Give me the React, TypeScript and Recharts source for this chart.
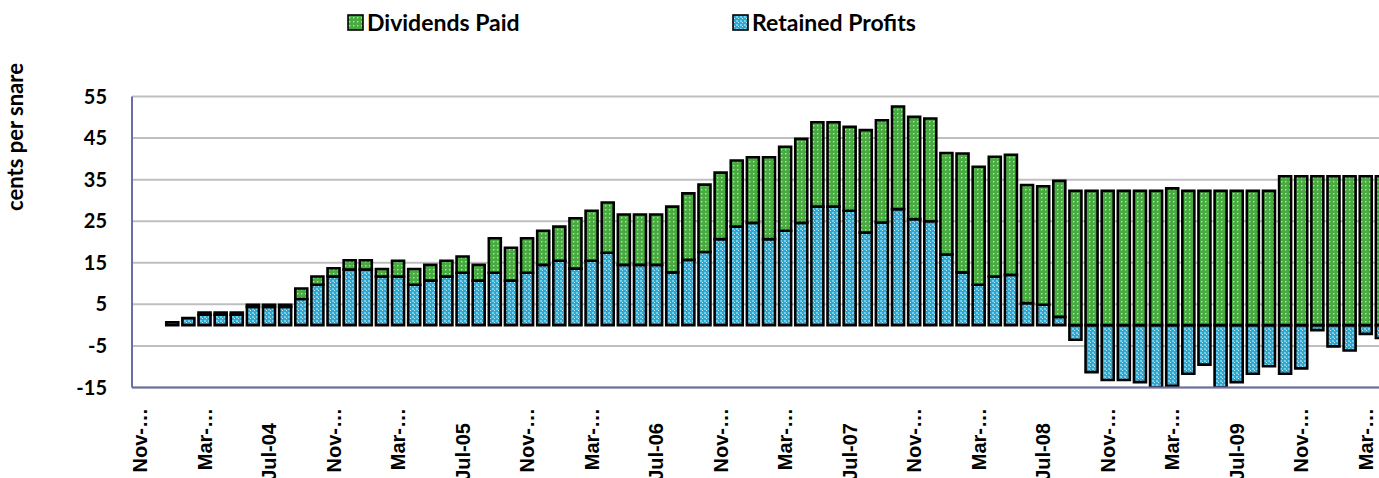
import React from 'react';
import { BarChart, Bar, XAxis, YAxis, CartesianGrid } from 'recharts';

const months = [
  'Nov-03', 'Dec-03', 'Jan-04', 'Feb-04', 'Mar-04', 'Apr-04', 'May-04', 'Jun-04', 'Jul-04', 'Aug-04', 'Sep-04', 'Oct-04',
  'Nov-04', 'Dec-04', 'Jan-05', 'Feb-05', 'Mar-05', 'Apr-05', 'May-05', 'Jun-05', 'Jul-05', 'Aug-05', 'Sep-05', 'Oct-05',
  'Nov-05', 'Dec-05', 'Jan-06', 'Feb-06', 'Mar-06', 'Apr-06', 'May-06', 'Jun-06', 'Jul-06', 'Aug-06', 'Sep-06', 'Oct-06',
  'Nov-06', 'Dec-06', 'Jan-07', 'Feb-07', 'Mar-07', 'Apr-07', 'May-07', 'Jun-07', 'Jul-07', 'Aug-07', 'Sep-07', 'Oct-07',
  'Nov-07', 'Dec-07', 'Jan-08', 'Feb-08', 'Mar-08', 'Apr-08', 'May-08', 'Jun-08', 'Jul-08', 'Aug-08', 'Sep-08', 'Oct-08',
  'Nov-08', 'Dec-08', 'Jan-09', 'Feb-09', 'Mar-09', 'Apr-09', 'May-09', 'Jun-09', 'Jul-09', 'Aug-09', 'Sep-09', 'Oct-09',
  'Nov-09', 'Dec-09', 'Jan-10', 'Feb-10', 'Mar-10', 'Apr-10',
];

const retainedProfits: (number | null)[] = [
  null, null, 0.7, 1.7, 2.5, 2.5, 2.5, 4.4, 4.4, 4.4,
  6.3, 9.7, 11.7, 13.4, 13.4, 11.7, 11.7, 9.7, 10.7, 11.7,
  12.6, 10.7, 12.6, 10.7, 12.6, 14.5, 15.5, 13.6, 15.5, 17.4,
  14.5, 14.5, 14.5, 12.7, 15.7, 17.6, 20.7, 23.7, 24.6, 20.7,
  22.7, 24.6, 28.5, 28.5, 27.5, 22.3, 24.7, 27.9, 25.5, 25.0,
  17.0, 12.7, 9.7, 11.7, 12.1, 5.3, 4.9, 2.0, -3.5, -11.3,
  -13.2, -13.2, -13.7, -15, -14.6, -11.7, -9.5, -15, -13.7, -11.7,
  -9.9, -11.7, -10.4, -1.2, -5.1, -6.1, -2.1, -3.1,
];

const dividendsPaid: (number | null)[] = [
  null, null, 0, 0, 0.5, 0.5, 0.5, 0.5, 0.5, 0.5,
  2.5, 2.0, 2.0, 2.2, 2.2, 1.8, 3.8, 3.8, 3.8, 3.8,
  3.9, 3.8, 8.3, 7.9, 8.3, 8.2, 8.2, 12.1, 12.0, 12.1,
  12.1, 12.1, 12.1, 15.8, 16.0, 16.2, 16.0, 15.9, 15.8, 19.7,
  20.2, 20.2, 20.3, 20.3, 20.2, 24.6, 24.6, 24.7, 24.6, 24.7,
  24.4, 28.6, 28.4, 28.8, 28.9, 28.4, 28.5, 32.7, 32.3, 32.3,
  32.3, 32.3, 32.3, 32.3, 32.9, 32.3, 32.3, 32.3, 32.3, 32.3,
  32.3, 35.8, 35.8, 35.8, 35.8, 35.8, 35.8, 35.8,
];

const tickLabels = [
  'Nov-…', 'Mar-…', 'Jul-04', 'Nov-…', 'Mar-…', 'Jul-05', 'Nov-…', 'Mar-…', 'Jul-06', 'Nov-…',
  'Mar-…', 'Jul-07', 'Nov-…', 'Mar-…', 'Jul-08', 'Nov-…', 'Mar-…', 'Jul-09', 'Nov-…', 'Mar-…',
];

const yTicks = [-15, -5, 5, 15, 25, 35, 45, 55];

const seriesNames = { dividends: 'Dividends Paid', retained: 'Retained Profits' };
const yAxisTitle = 'cents per snare';

const data = months.map((m, i) => ({
  month: m,
  retained: retainedProfits[i],
  dividends: dividendsPaid[i],
}));

const AXIS_COLOR = '#6d6da6';

const XTick = (props: any) => {
  const { x, payload } = props;
  const idx = months.indexOf(payload.value);
  const label = tickLabels[Math.round(idx / 4)] ?? '';
  const truncated = label.endsWith('…');
  const yTop = truncated ? 408 : 423;
  return (
    <text
      transform={`translate(${x + 7},${yTop}) rotate(-90)`}
      textAnchor="end"
      fontFamily="'Liberation Sans', Arial, sans-serif"
      fontWeight={700}
      fontSize={20}
      fill="#000"
    >
      {label}
    </text>
  );
};

const Patterns = ({ prefix }: { prefix: string }) => (
  <defs>
    <pattern id={`${prefix}g`} width="4" height="4" patternUnits="userSpaceOnUse">
      <rect width="4" height="4" fill="#48ab40" />
      <rect x="1" y="1" width="1.4" height="1.4" fill="#b9e0b3" />
    </pattern>
    <pattern id={`${prefix}b`} width="4" height="4" patternUnits="userSpaceOnUse">
      <rect width="4" height="4" fill="#26aad4" />
      <rect x="0" y="0" width="2" height="2" fill="#78cdea" />
      <rect x="2" y="2" width="1" height="1" fill="#c2eaf7" />
    </pattern>
  </defs>
);

export default function App() {
  return (
    <div
      style={{
        position: 'absolute',
        left: 0,
        top: 0,
        width: 1379,
        height: 478,
        overflow: 'hidden',
        background: '#fff',
      }}
    >
      <BarChart
        width={1400}
        height={478}
        data={data}
        margin={{ top: 96.5, right: 10, bottom: 0, left: 0 }}
        stackOffset="sign"
        barCategoryGap={2}
      >
        <Patterns prefix="c" />
        <CartesianGrid vertical={false} stroke="#bfbfbf" strokeWidth={2} />
        <XAxis
          dataKey="month"
          interval={3}
          tickLine={false}
          axisLine={{ stroke: AXIS_COLOR, strokeWidth: 2 }}
          height={90.5}
          tick={<XTick />}
        />
        <YAxis
          domain={[-15, 55]}
          ticks={yTicks}
          allowDataOverflow
          width={132}
          tickLine={false}
          tickSize={0}
          tickMargin={25}
          axisLine={{ stroke: AXIS_COLOR, strokeWidth: 2 }}
          tick={{ fill: '#000', fontSize: 20, fontWeight: 700, fontFamily: 'Lato, sans-serif' }}
        />
        <Bar
          dataKey="retained"
          name={seriesNames.retained}
          stackId="a"
          fill="url(#cb)"
          stroke="#000"
          strokeWidth={2.6}
          isAnimationActive={false}
        />
        <Bar
          dataKey="dividends"
          name={seriesNames.dividends}
          stackId="a"
          fill="url(#cg)"
          stroke="#000"
          strokeWidth={2.6}
          isAnimationActive={false}
        />
      </BarChart>
      <svg
        width={1379}
        height={478}
        style={{ position: 'absolute', left: 0, top: 0, pointerEvents: 'none' }}
      >
        <Patterns prefix="l" />
        <rect x={348} y={15} width={15} height={15} fill="url(#lg)" stroke="#000" strokeWidth={1.6} />
        <text x={367} y={31} fontFamily="Lato, sans-serif" fontWeight={700} fontSize={23} fill="#000">
          {seriesNames.dividends}
        </text>
        <rect x={733} y={15} width={15} height={15} fill="url(#lb)" stroke="#000" strokeWidth={1.6} />
        <text x={752} y={31} fontFamily="Lato, sans-serif" fontWeight={700} fontSize={23} fill="#000">
          {seriesNames.retained}
        </text>
        <text
          transform="translate(23,137) rotate(-90)"
          textAnchor="middle"
          fontFamily="Lato, sans-serif"
          fontWeight={700}
          fontSize={22}
          fill="#000"
        >
          {yAxisTitle}
        </text>
      </svg>
    </div>
  );
}
